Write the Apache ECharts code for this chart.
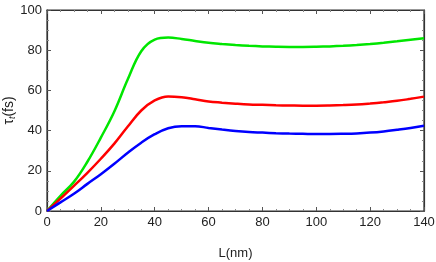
<!DOCTYPE html>
<html><head><meta charset="utf-8">
<script src="https://cdn.jsdelivr.net/npm/echarts@6/dist/echarts.min.js"></script>
<style>html,body{margin:0;padding:0;background:#fff}#c{width:436px;height:262px}</style>
</head><body><div id="c"></div>
<script>
const L = [0,5,10,15,20,25,30,35,40,45,50,55,60,65,70,75,80,85,90,95,100,105,110,115,120,125,130,135,140];
const green = [0,7.6,14.5,24.5,36.5,49.5,65.5,79.5,85.3,86.3,85.6,84.6,83.7,83.1,82.6,82.2,81.9,81.7,81.6,81.6,81.7,81.9,82.2,82.6,83.1,83.7,84.4,85.2,86];
const red   = [0,6.2,12.5,19,26,33.5,42,50,55,57,56.6,55.6,54.5,53.9,53.4,53.0,52.8,52.6,52.5,52.4,52.4,52.5,52.7,53.0,53.5,54.1,54.8,55.8,56.9];
const blue  = [0,4.3,8.6,13.5,18.3,23.5,29,34,38.2,41.2,42.2,42.2,41.3,40.5,39.8,39.3,39,38.7,38.5,38.4,38.3,38.3,38.4,38.6,39,39.6,40.4,41.3,42.4];
const xTicks = [0,20,40,60,80,100,120,140];
const yTicks = [0,20,40,60,80,100];

const font = 'Liberation Sans, Arial, sans-serif';
const mkFrame = () => ({show:true, onZero:false, lineStyle:{color:'#333', width:1.2}});
const mkTick = () => ({show:true, inside:true, length:4, lineStyle:{color:'#555', width:1}});
const mkMinor = () => ({show:true, splitNumber:4, length:2, lineStyle:{color:'#888', width:1}});
const toPairs = a => L.map((x,i)=>[x,a[i]]);
const chart = echarts.init(document.getElementById('c'));
chart.setOption({
  animation:false,
  grid:{left:47, right:12, top:10, bottom:51, outerBoundsMode:'none', containLabel:false,
    show:true, borderColor:'#333', borderWidth:1.2, backgroundColor:'transparent'},
  xAxis:[{
    type:'value', min:0, max:140, interval:20,
    axisLine:mkFrame(), axisTick:mkTick(), minorTick:mkMinor(), splitLine:{show:false},
    axisLabel:{color:'#222', fontFamily:font, fontSize:13, margin:5,
      formatter:v=>xTicks.includes(v)?String(v):''},
    name:'L(nm)', nameLocation:'middle', nameGap:36, nameMoveOverlap:false,
    nameTextStyle:{color:'#222', fontFamily:font, fontSize:13}
  },{
    type:'value', position:'top', min:0, max:140, interval:20,
    axisLine:mkFrame(), axisTick:mkTick(), minorTick:mkMinor(), splitLine:{show:false}, axisLabel:{show:false}
  }],
  yAxis:[{
    type:'value', min:0, max:100, interval:20,
    axisLine:mkFrame(), axisTick:mkTick(), minorTick:mkMinor(), splitLine:{show:false},
    axisLabel:{color:'#222', fontFamily:font, fontSize:13, margin:5,
      formatter:v=>yTicks.includes(v)?String(v):''},
    name:'{a|τ}{b|t}{a|(fs)}', nameLocation:'middle', nameGap:30, nameRotate:90, nameMoveOverlap:false,
    nameTextStyle:{rich:{
      a:{color:'#222', fontFamily:font, fontSize:14},
      b:{color:'#222', fontFamily:font, fontSize:9, fontStyle:'italic', verticalAlign:'bottom', padding:[6,0,0,0]}
    }}
  },{
    type:'value', position:'right', min:0, max:100, interval:20,
    axisLine:mkFrame(), axisTick:mkTick(), minorTick:mkMinor(), splitLine:{show:false}, axisLabel:{show:false}
  }],
  series:[
    {type:'line', data:toPairs(green), smooth:0.4, showSymbol:false, lineStyle:{color:'#00e600', width:2.5}},
    {type:'line', data:toPairs(red), smooth:0.4, showSymbol:false, lineStyle:{color:'#ff0000', width:2.5}},
    {type:'line', data:toPairs(blue), smooth:0.4, showSymbol:false, lineStyle:{color:'#0000ff', width:2.5}},
    {type:'line', data:[], xAxisIndex:1, yAxisIndex:1, silent:true}
  ]
});
</script></body></html>
